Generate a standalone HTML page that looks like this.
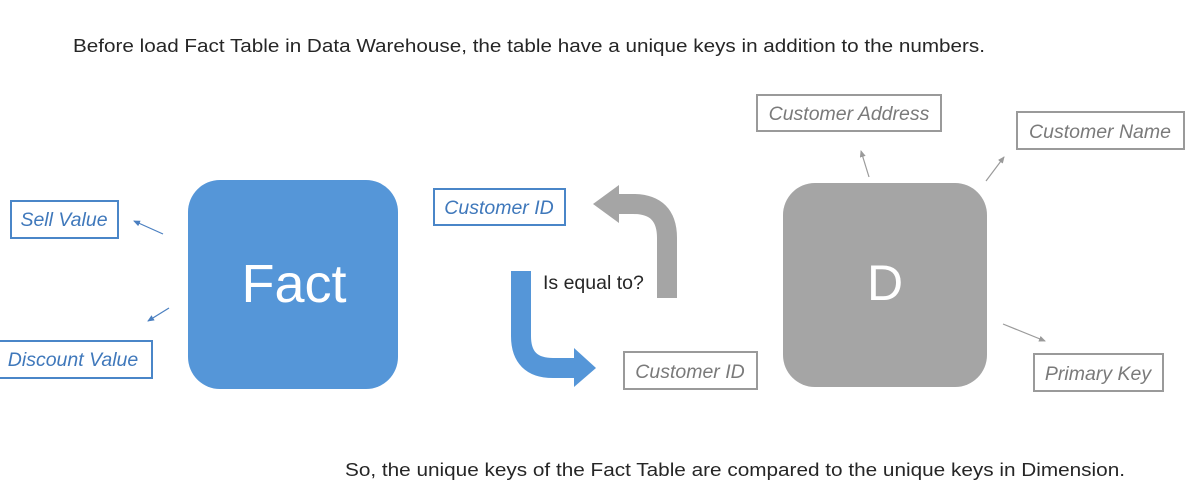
<!DOCTYPE html>
<html><head><meta charset="utf-8"><style>
html,body{margin:0;padding:0;background:#fff;width:1189px;height:498px;overflow:hidden}
svg{display:block}
text{font-family:"Liberation Sans",sans-serif}
.bl{font-style:italic;fill:#3f78bb;font-size:19.5px}
.gr{font-style:italic;fill:#7a7a7a;font-size:19.5px}
</style></head><body>
<svg width="1189" height="498" viewBox="0 0 1189 498" xmlns="http://www.w3.org/2000/svg">
<defs>
<marker id="ab" markerWidth="8" markerHeight="8" refX="6" refY="3" orient="auto" markerUnits="userSpaceOnUse"><path d="M0,0 L7,3 L0,6 z" fill="#4a7fc0"/></marker>
<marker id="ag" markerWidth="8" markerHeight="8" refX="6" refY="3" orient="auto" markerUnits="userSpaceOnUse"><path d="M0,0 L7,3 L0,6 z" fill="#9a9a9a"/></marker>
</defs>
<text x="73" y="52" font-size="18" fill="#262626" textLength="912" lengthAdjust="spacingAndGlyphs">Before load Fact Table in Data Warehouse, the table have a unique keys in addition to the numbers.</text>

<rect x="188" y="180" width="210" height="209" rx="32" fill="#5596d8"/>
<text x="294" y="302" font-size="54" fill="#fff" text-anchor="middle">Fact</text>

<rect x="783" y="183" width="204" height="204" rx="32" fill="#a5a5a5"/>
<text x="885" y="300" font-size="50" fill="#fff" text-anchor="middle">D</text>

<rect x="11" y="201" width="107" height="37" fill="#fff" stroke="#4a86c8" stroke-width="2"/>
<text class="bl" x="64" y="226" text-anchor="middle">Sell Value</text>
<rect x="-1" y="341" width="153" height="37" fill="#fff" stroke="#4a86c8" stroke-width="2"/>
<text class="bl" x="73" y="366" text-anchor="middle">Discount Value</text>
<rect x="434" y="189" width="131" height="36" fill="#fff" stroke="#4a86c8" stroke-width="2"/>
<text class="bl" x="499" y="214" text-anchor="middle">Customer ID</text>

<rect x="624" y="352" width="133" height="37" fill="#fff" stroke="#9a9a9a" stroke-width="2"/>
<text class="gr" x="690" y="378" text-anchor="middle">Customer ID</text>
<rect x="757" y="95" width="184" height="36" fill="#fff" stroke="#9a9a9a" stroke-width="2"/>
<text class="gr" x="849" y="120" text-anchor="middle">Customer Address</text>
<rect x="1017" y="112" width="167" height="37" fill="#fff" stroke="#9a9a9a" stroke-width="2"/>
<text class="gr" x="1100" y="138" text-anchor="middle">Customer Name</text>
<rect x="1034" y="354" width="129" height="37" fill="#fff" stroke="#9a9a9a" stroke-width="2"/>
<text class="gr" x="1098" y="380" text-anchor="middle">Primary Key</text>

<line x1="163" y1="234" x2="134" y2="221" stroke="#4a7fc0" stroke-width="1.2" marker-end="url(#ab)"/>
<line x1="169" y1="308" x2="148" y2="321" stroke="#4a7fc0" stroke-width="1.2" marker-end="url(#ab)"/>
<line x1="869" y1="177" x2="861" y2="151" stroke="#9a9a9a" stroke-width="1.2" marker-end="url(#ag)"/>
<line x1="986" y1="181" x2="1004" y2="157" stroke="#9a9a9a" stroke-width="1.2" marker-end="url(#ag)"/>
<line x1="1003" y1="324" x2="1045" y2="341" stroke="#9a9a9a" stroke-width="1.2" marker-end="url(#ag)"/>

<path d="M667,298 L667,238 Q667,204 633,204 L616,204" fill="none" stroke="#a5a5a5" stroke-width="20"/>
<path d="M593,204 L619,185 L619,223 z" fill="#a5a5a5"/>
<path d="M521,271 L521,336 Q521,368 553,368 L576,368" fill="none" stroke="#5596d8" stroke-width="20"/>
<path d="M596,368 L574,348 L574,387 z" fill="#5596d8"/>

<text x="543" y="289" font-size="19.5" fill="#262626">Is equal to?</text>
<text x="345" y="476" font-size="18" fill="#262626" textLength="780" lengthAdjust="spacingAndGlyphs">So, the unique keys of the Fact Table are compared to the unique keys in Dimension.</text>
</svg>
</body></html>
